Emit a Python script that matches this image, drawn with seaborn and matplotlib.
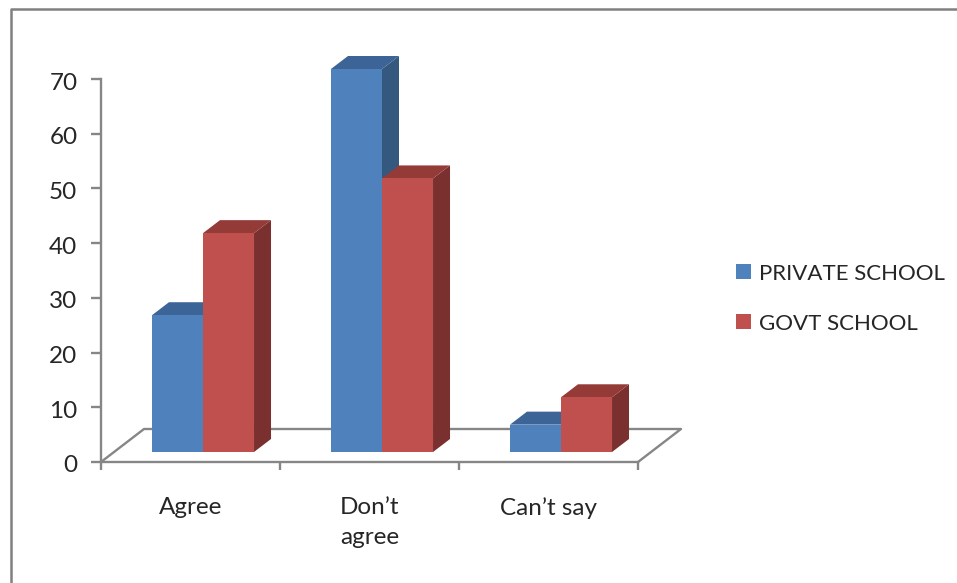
import matplotlib
matplotlib.use("Agg")
import matplotlib.pyplot as plt
import pandas as pd
import seaborn as sns
from matplotlib.lines import Line2D
from matplotlib.patches import Patch, Polygon
from matplotlib.transforms import Affine2D, IdentityTransform

categories = ["Agree", "Don’t\nagree", "Can’t say"]
series_names = ["PRIVATE SCHOOL", "GOVT SCHOOL"]
private_values = [25, 70, 5]
govt_values = [40, 50, 10]
front_colors = ["#4F81BD", "#C0504D"]
side_colors = ["#35587F", "#7A302E"]
top_colors = ["#3D6496", "#943B38"]
y_ticks = [0, 10, 20, 30, 40, 50, 60, 70]

W, H = 957, 583
GRID = "#868686"

sns.set_style("white")
plt.rcParams["font.family"] = ["Lato", "DejaVu Sans"]
plt.rcParams["text.color"] = "#262626"

df = pd.DataFrame({
    "category": categories * 2,
    "school": [series_names[0]] * 3 + [series_names[1]] * 3,
    "value": private_values + govt_values,
})

fig = plt.figure(figsize=(W / 100, H / 100), dpi=100, facecolor="white")
ax = fig.add_axes([101 / W, 1 - 462 / H, (638 - 101) / W, (462 - 79) / H])
ax.patch.set_alpha(0)

sns.barplot(data=df, x="category", y="value", hue="school", hue_order=series_names,
            palette=front_colors, saturation=1, width=0.57, gap=0, legend=False, ax=ax)
ax.set_xlim(-0.5, 2.5)
ax.set_ylim(0, 70)
ax.set_xlabel("")
ax.set_ylabel("")

# axis styling
sns.despine(ax=ax)
for side in ["left", "bottom"]:
    ax.spines[side].set_color(GRID)
    ax.spines[side].set_linewidth(1.7)
ax.set_yticks(y_ticks)
ax.tick_params(axis="y", left=True, length=7, width=1.7, color=GRID, pad=10, labelsize=17.5,
               labelcolor="#262626")
ax.set_xticks([-0.5, 0.5, 1.5, 2.5], minor=True)
ax.tick_params(axis="x", which="minor", bottom=True, length=6, width=1.7, color=GRID)
ax.tick_params(axis="x", which="major", bottom=False, pad=21.5, labelsize=17.5, labelcolor="#262626")
for lab in ax.get_xticklabels():
    lab.set_linespacing(1.55)
for lab in ax.get_yticklabels():
    lab.set_transform(lab.get_transform() + Affine2D().translate(0, -2))

# fake 3d: everything in pixels from here on (y up)
off_x, off_y = 12.5, 10
shift = Affine2D().translate(off_x, off_y)
dx, dy = 17, 13
floor_dx, floor_dy = 43, 33
x0, y0 = ax.transData.transform((-0.5, 0))
x1, _ = ax.transData.transform((2.5, 0))
floor_pts = [(x0, y0), (x0 + floor_dx, y0 + floor_dy), (x1 + floor_dx, y0 + floor_dy), (x1, y0)]
ax.add_line(Line2D(*zip(*floor_pts), color=GRID, lw=1.7, transform=IdentityTransform(),
                   clip_on=False, zorder=1))

for i, cont in enumerate(ax.containers):
    for bar in cont:
        (l, b), (r, t) = ax.transData.transform(
            [(bar.get_x(), 0), (bar.get_x() + bar.get_width(), bar.get_height())])
        l, r = l + off_x, r + off_x
        b, t = b + off_y, t + off_y
        z = 3 + i
        bar.set_transform(ax.transData + shift)
        bar.set_clip_on(False)
        bar.set_zorder(z + 0.5)
        bar.set_edgecolor("none")
        ax.add_patch(Polygon([(r, b), (r + dx, b + dy), (r + dx, t + dy), (r, t)],
                             facecolor=side_colors[i], edgecolor="none",
                             transform=IdentityTransform(), clip_on=False, zorder=z))
        ax.add_patch(Polygon([(l, t), (l + dx, t + dy), (r + dx, t + dy), (r, t)],
                             facecolor=top_colors[i], edgecolor="none",
                             transform=IdentityTransform(), clip_on=False, zorder=z))

# legend
handles = [Patch(facecolor=c, edgecolor="none", label=n) for c, n in zip(front_colors, series_names)]
fig.legend(handles=handles, loc="center left", bbox_to_anchor=(736 / W, 1 - 298.5 / H),
           frameon=False, fontsize=16, handlelength=0.68, handleheight=0.68,
           handletextpad=0.36, labelspacing=1.35, borderpad=0, borderaxespad=0)

# chart frame, cut off by the picture on the right and bottom
fig.add_artist(Line2D([10.5 / W, 10.5 / W, 1], [0, 1 - 9 / H, 1 - 9 / H], color="#808080", lw=1.8))

fig.savefig("out.png", dpi=100)
